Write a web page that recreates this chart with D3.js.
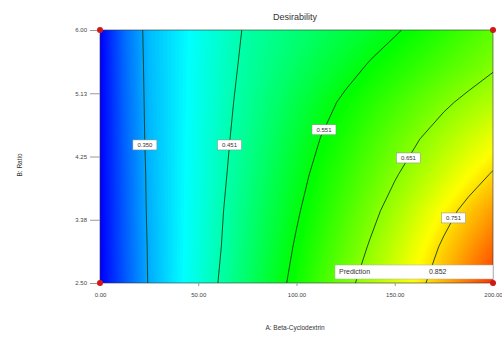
<!DOCTYPE html>
<html>
<head>
<meta charset="utf-8">
<script src="https://cdn.jsdelivr.net/npm/d3@7"></script>
<style>
  body { margin: 0; background: #fff; font-family: Arial, "Liberation Sans", sans-serif; }
  .tick text { fill: #444; }
</style>
</head>
<body>
<div id="chart"></div>
<script>
// Factor levels of the grid (columns = A, rows = B from top to bottom)
const aValues = [0, 12.5, 25, 37.5, 50, 62.5, 75, 87.5, 100, 112.5, 125, 137.5, 150, 162.5, 175, 187.5, 200];
const bValues = [6, 5.5, 5, 4.5, 4, 3.5, 3, 2.5];

// Desirability, one row per B level
const desirability = [
  [0.25, 0.316, 0.362, 0.386, 0.410, 0.434, 0.456, 0.471, 0.486, 0.501, 0.516, 0.531, 0.546, 0.564, 0.582, 0.601, 0.620],
  [0.25, 0.313, 0.361, 0.386, 0.412, 0.437, 0.460, 0.479, 0.498, 0.517, 0.536, 0.555, 0.573, 0.591, 0.609, 0.627, 0.645],
  [0.25, 0.311, 0.360, 0.386, 0.413, 0.440, 0.465, 0.489, 0.513, 0.537, 0.559, 0.580, 0.601, 0.622, 0.643, 0.662, 0.680],
  [0.25, 0.309, 0.359, 0.387, 0.415, 0.443, 0.470, 0.497, 0.525, 0.552, 0.576, 0.601, 0.625, 0.650, 0.673, 0.697, 0.720],
  [0.25, 0.307, 0.357, 0.387, 0.416, 0.446, 0.476, 0.506, 0.536, 0.565, 0.592, 0.619, 0.647, 0.674, 0.702, 0.730, 0.755],
  [0.25, 0.305, 0.356, 0.387, 0.418, 0.450, 0.482, 0.514, 0.546, 0.577, 0.607, 0.638, 0.669, 0.702, 0.735, 0.764, 0.790],
  [0.25, 0.304, 0.354, 0.387, 0.420, 0.453, 0.488, 0.522, 0.556, 0.589, 0.622, 0.655, 0.690, 0.725, 0.758, 0.789, 0.820],
  [0.25, 0.302, 0.353, 0.388, 0.423, 0.458, 0.494, 0.530, 0.565, 0.601, 0.637, 0.672, 0.707, 0.741, 0.778, 0.815, 0.852]
];

// Contour lines and the B level where each label sits
const contourLevels = [0.350, 0.451, 0.551, 0.651, 0.751];
const labelB = [4.41, 4.41, 4.62, 4.23, 3.40];

const xTicks = [0, 50, 100, 150, 200];
const yTicks = [2.5, 3.375, 4.25, 5.125, 6];
const designPoints = [[0, 2.5], [0, 6], [200, 2.5], [200, 6]];
const prediction = 0.852;

const width = 502, height = 338;
const margin = { left: 100, right: 9, top: 30, bottom: 55 };

const svg = d3.select('#chart').append('svg')
  .attr('width', width)
  .attr('height', height);

const x = d3.scaleLinear().domain([0, 200]).range([margin.left, width - margin.right]);
const y = d3.scaleLinear().domain([2.5, 6]).range([height - margin.bottom, margin.top]);

const nx = aValues.length, ny = bValues.length;
const values = desirability.flat();

// grid coords: value index i sits at i + 0.5
const aStep = aValues[1] - aValues[0];
const bStep = bValues[0] - bValues[1];
const toPx = (cx, cy) => [x(aValues[0] + (cx - 0.5) * aStep), y(bValues[0] - (cy - 0.5) * bStep)];

const path = d3.geoPath(d3.geoTransform({
  point(cx, cy) { const p = toPx(cx, cy); this.stream.point(p[0], p[1]); }
}));

const color = d3.scaleLinear()
  .domain([0.25, 0.40, 0.555, 0.73, 0.88])
  .range(['#0000ff', '#00ffff', '#00ff00', '#ffff00', '#ff0000'])
  .clamp(true);

svg.append('clipPath').attr('id', 'plot-clip')
  .append('rect')
  .attr('x', x(0)).attr('y', y(6))
  .attr('width', x(200) - x(0)).attr('height', y(2.5) - y(6));

const plot = svg.append('g').attr('clip-path', 'url(#plot-clip)');

// smooth colour fill: many thin bands
const bands = d3.range(0.2, 0.86, 0.004);
const contours = d3.contours().size([nx, ny]);

plot.selectAll('path.band')
  .data(contours.thresholds(bands)(values))
  .join('path')
  .attr('class', 'band')
  .attr('d', path)
  .attr('fill', d => color(d.value))
  .attr('stroke', d => color(d.value))
  .attr('stroke-width', 0.6);

// contour lines
const lines = contours.thresholds(contourLevels)(values);
plot.selectAll('path.line')
  .data(lines)
  .join('path')
  .attr('class', 'line')
  .attr('d', path)
  .attr('fill', 'none')
  .attr('stroke', '#124012')
  .attr('stroke-width', 0.9);

// plot frame
svg.append('rect')
  .attr('x', x(0)).attr('y', y(6))
  .attr('width', x(200) - x(0)).attr('height', y(2.5) - y(6))
  .attr('fill', 'none')
  .attr('stroke', '#333')
  .attr('stroke-width', 0.6);

// contour labels, placed where each line crosses its label level
function crossing(geom, py) {
  for (const poly of geom.coordinates) {
    for (const ring of poly) {
      for (let i = 1; i < ring.length; i++) {
        const p0 = toPx(ring[i - 1][0], ring[i - 1][1]);
        const p1 = toPx(ring[i][0], ring[i][1]);
        if ((p0[1] - py) * (p1[1] - py) <= 0 && p0[1] !== p1[1]) {
          const t = (py - p0[1]) / (p1[1] - p0[1]);
          const px = p0[0] + t * (p1[0] - p0[0]);
          if (px > x(0) + 1 && px < x(200) - 1) return [px, py];
        }
      }
    }
  }
  return null;
}

lines.forEach((geom, i) => {
  const pos = crossing(geom, y(labelB[i]));
  if (!pos) return;
  const g = svg.append('g').attr('transform', `translate(${pos[0]},${pos[1]})`);
  g.append('rect')
    .attr('x', -12).attr('y', -5)
    .attr('width', 24).attr('height', 10)
    .attr('fill', '#fff')
    .attr('stroke', '#888')
    .attr('stroke-width', 0.5);
  g.append('text')
    .attr('text-anchor', 'middle')
    .attr('dy', '0.35em')
    .attr('font-size', 6)
    .attr('fill', '#333')
    .text(d3.format('.3f')(contourLevels[i]));
});

// axes
const xAxis = svg.append('g')
  .attr('transform', `translate(0,${y(2.5)})`)
  .call(d3.axisBottom(x).tickValues(xTicks).tickFormat(d3.format('.2f')).tickSize(3).tickPadding(7));
const yAxis = svg.append('g')
  .attr('transform', `translate(${x(0)},0)`)
  .call(d3.axisLeft(y).tickValues(yTicks).tickFormat(d3.format('.2f')).tickSize(10).tickPadding(3));

[xAxis, yAxis].forEach(ax => {
  ax.select('.domain').remove();
  ax.selectAll('.tick line').attr('stroke', '#999');
  ax.selectAll('.tick text').attr('font-size', 6).attr('fill', '#555');
});

// design points
svg.selectAll('circle.design')
  .data(designPoints)
  .join('circle')
  .attr('class', 'design')
  .attr('cx', d => x(d[0]))
  .attr('cy', d => y(d[1]))
  .attr('r', 3)
  .attr('fill', '#d01818');

// prediction box
const pb = svg.append('g').attr('transform', `translate(${x(200)},${y(2.5) - 11})`);
pb.append('rect')
  .attr('x', -158).attr('y', -7)
  .attr('width', 158).attr('height', 14)
  .attr('fill', '#fff')
  .attr('stroke', '#aaa')
  .attr('stroke-width', 0.5);
pb.append('text')
  .attr('x', -154).attr('dy', '0.35em')
  .attr('font-size', 7).attr('fill', '#333')
  .text('Prediction');
pb.append('text')
  .attr('x', -64).attr('dy', '0.35em')
  .attr('font-size', 7).attr('fill', '#333')
  .text(d3.format('.3f')(prediction));

// titles
svg.append('text')
  .attr('x', 295).attr('y', 20)
  .attr('text-anchor', 'middle')
  .attr('font-size', 9)
  .attr('fill', '#333')
  .text('Desirability');

svg.append('text')
  .attr('x', 295).attr('y', 330)
  .attr('text-anchor', 'middle')
  .attr('font-size', 6.5)
  .attr('fill', '#333')
  .text('A: Beta-Cyclodextrin');

svg.append('text')
  .attr('transform', 'translate(22,165) rotate(-90)')
  .attr('text-anchor', 'middle')
  .attr('font-size', 6.5)
  .attr('fill', '#333')
  .text('B: Ratio');
</script>
</body>
</html>
